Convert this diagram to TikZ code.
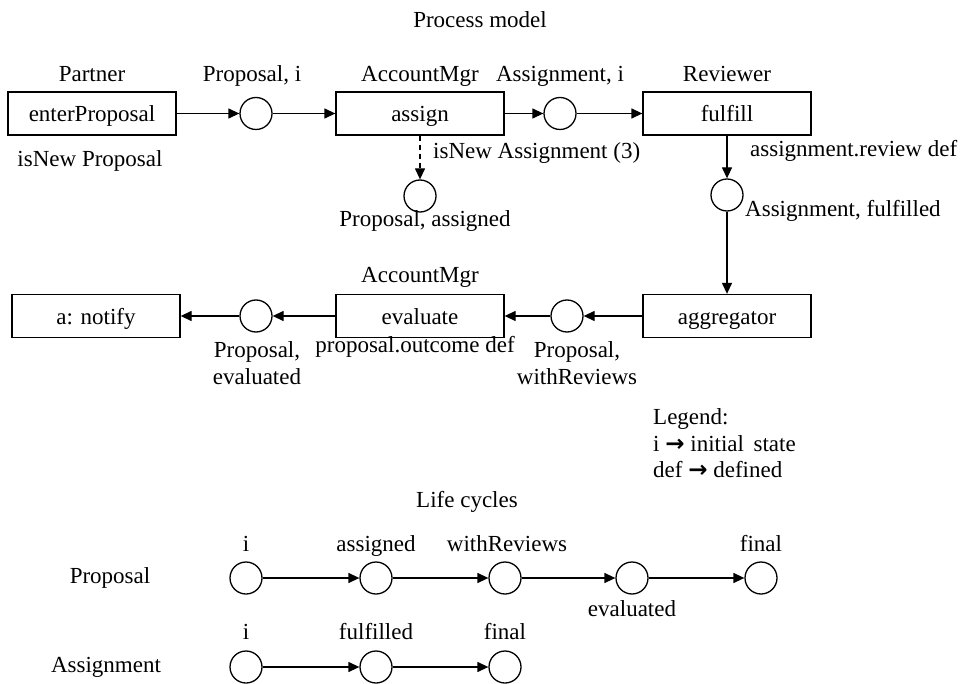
\documentclass[tikz,border=0pt]{standalone}
\usepackage{fontspec}
\setmainfont{Liberation Serif}
\newfontfamily\arrowfont{DejaVu Sans}
\usetikzlibrary{arrows.meta}
\newcommand{\legarrow}{{\arrowfont\bfseries →}}
\begin{document}
\begin{tikzpicture}[x=1pt,y=-1pt,
  every node/.style={font=\fontsize{23}{27}\selectfont, inner sep=0pt, text height=15pt, text depth=5pt},
  task/.style={draw, line width=1.3pt, minimum width=168pt, minimum height=43pt, text height=16pt, text depth=0pt},
  place/.style={draw, circle, line width=1.3pt, minimum size=32pt, text height=, text depth=},
  lbl/.style={align=center, text height=, text depth=},
  flow/.style={line width=1.3pt, -{Triangle[length=11pt,width=10pt]}},
  lcflow/.style={line width=1.3pt, -{Triangle[length=11pt,width=10pt]}},
]
\useasboundingbox (0,0) rectangle (960,684);

% titles
\node (t1) at (480,23) {Process model};
\node (t2) at (467,502) {Life cycles};

% top row
\node[task] (ep) at (92,113.5) {enterProposal};
\node (ep-r) at (92,77) {Partner};
\node (ep-c) at (90,161.5) {isNew Proposal};

\node[place] (c1) at (256,113.5) {};
\node (c1-l) at (252,77) {Proposal, i};

\node[task] (as) at (420,113.5) {assign};
\node (as-r) at (420,77) {AccountMgr};
\node[anchor=west] (as-c) at (433,153.5) {isNew Assignment (3)};

\node[place] (c2) at (420,196) {};
\node (c2-l) at (425,222) {Proposal, assigned};

\node[place] (c3) at (560,113.5) {};
\node (c3-l) at (560,77) {Assignment, i};

\node[task] (ff) at (727,113.5) {fulfill};
\node (ff-r) at (727,77) {Reviewer};
\node[anchor=west] (ff-c) at (750,152) {assignment.review def};

\node[place] (c4) at (727,195) {};
\node[anchor=west] (c4-l) at (745,212) {Assignment, fulfilled};

% second row
\node[task] (ag) at (727,316) {aggregator};
\node[place] (c5) at (567,316) {};
\node[lbl] (c5-l) at (577,363) {Proposal,\\withReviews};

\node[task] (ev) at (420,316) {evaluate};
\node (ev-r) at (420,278) {AccountMgr};
\node (ev-c) at (415,347) {proposal.outcome def};

\node[place] (c6) at (256,316) {};
\node[lbl] (c6-l) at (257,363) {Proposal,\\evaluated};

\node[task] (nt) at (96,316) {a: notify};

% legend
\node[anchor=west] (lg1) at (653,419) {Legend:};
\node[anchor=west] (lg2) at (653,446) {i \legarrow{} initial\, state};
\node[anchor=west] (lg3) at (653,472) {def \legarrow{} defined};

% connectors
\draw[flow] (ep) -- (c1);
\draw[flow] (c1) -- (as);
\draw[flow] (as) -- (c3);
\draw[flow] (c3) -- (ff);
\draw[flow, dash pattern=on 5pt off 4pt] (as) -- (c2);
\draw[flow] (ff) -- (c4);
\draw[flow] (c4) -- (ag);
\draw[flow] (ag) -- (c5);
\draw[flow] (c5) -- (ev);
\draw[flow] (ev) -- (c6);
\draw[flow] (c6) -- (nt);

% life cycles
\node (lp) at (110,578) {Proposal};
\node[place] (p1) at (246,578) {};
\node[place] (p2) at (376,578) {};
\node[place] (p3) at (505,578) {};
\node[place] (p4) at (632,578) {};
\node[place] (p5) at (761,578) {};
\node (p1-l) at (246,546) {i};
\node (p2-l) at (376,546) {assigned};
\node (p3-l) at (507,546) {withReviews};
\node (p4-l) at (632,611) {evaluated};
\node (p5-l) at (761,546) {final};
\draw[lcflow] (p1) -- (p2);
\draw[lcflow] (p2) -- (p3);
\draw[lcflow] (p3) -- (p4);
\draw[lcflow] (p4) -- (p5);

\node (la) at (106,667) {Assignment};
\node[place] (a1) at (246,667) {};
\node[place] (a2) at (376,667) {};
\node[place] (a3) at (505,667) {};
\node (a1-l) at (246,634) {i};
\node (a2-l) at (376,634) {fulfilled};
\node (a3-l) at (505,634) {final};
\draw[lcflow] (a1) -- (a2);
\draw[lcflow] (a2) -- (a3);
\end{tikzpicture}
\end{document}
